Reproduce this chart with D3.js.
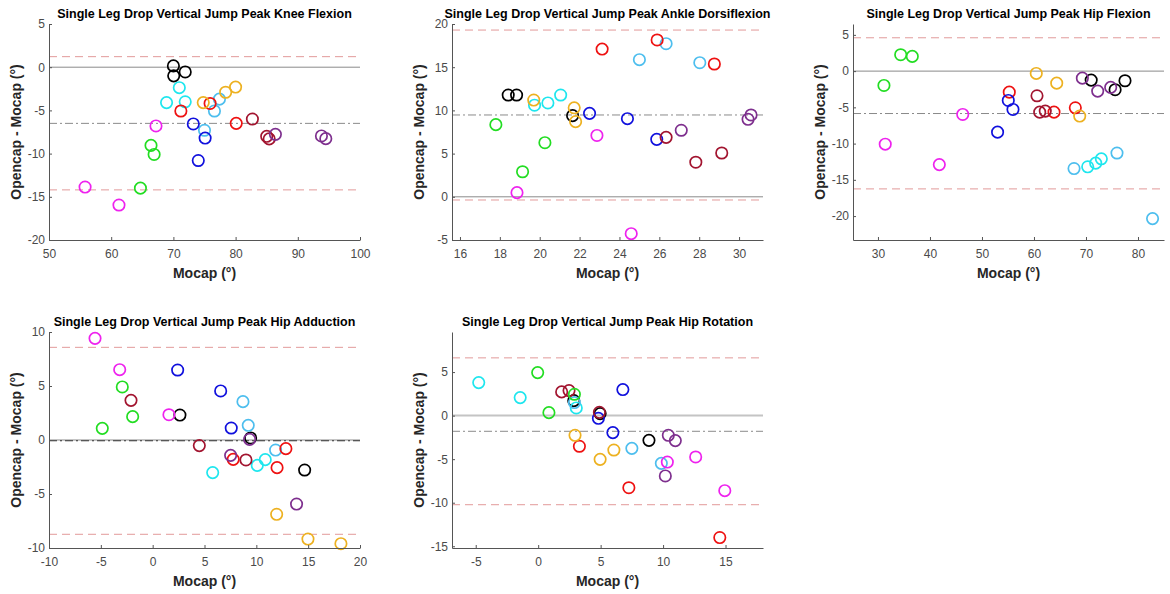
<!DOCTYPE html>
<html>
<head>
<meta charset="utf-8">
<script src="https://cdn.jsdelivr.net/npm/d3@7"></script>
<style>
  body { margin: 0; background: #fff; }
  svg { font-family: "Liberation Sans", Arial, sans-serif; }
</style>
</head>
<body>
<script>
// subjects, 3 trials each, same order in every panel
var subjectColors = ['#000000', '#1ee6ee', '#4dbeee', '#ee1111', '#edb120',
                     '#1010dd', '#a2142f', '#7e2f8e', '#22dd22', '#ee22ee'];

var titles = [
  'Single Leg Drop Vertical Jump Peak Knee Flexion',
  'Single Leg Drop Vertical Jump Peak Ankle Dorsiflexion',
  'Single Leg Drop Vertical Jump Peak Hip Flexion',
  'Single Leg Drop Vertical Jump Peak Hip Adduction',
  'Single Leg Drop Vertical Jump Peak Hip Rotation'
];

// mocap value, opencap - mocap
var kneeX = [70.0, 70.05, 71.9, 70.95, 68.9, 71.9, 77.4, 76.6, 75.0, 71.2, 75.9, 80.1, 74.8, 78.4, 80.0,
             73.2, 74.0, 75.1, 82.7, 85.0, 85.4, 86.4, 93.8, 94.5, 66.4, 66.9, 64.7, 67.2, 55.8, 61.25];
var kneeY = [0.15, -1.0, -0.55, -2.37, -4.1, -4.0, -3.7, -5.07, -7.3, -5.07, -4.2, -6.5, -4.1, -2.9, -2.3,
             -6.57, -10.8, -8.2, -6.0, -8.0, -8.3, -7.77, -7.96, -8.27, -9.05, -10.1, -14.0, -6.8, -13.87, -15.95];

var ankleX = [18.42, 18.84, 21.65, 19.74, 20.41, 21.05, 25.0, 26.34, 28.03, 23.13, 25.89, 28.76, 19.7, 21.73, 21.8,
              22.5, 24.4, 25.87, 26.34, 27.83, 29.13, 27.1, 30.45, 30.6, 17.8, 20.26, 19.14, 18.86, 22.87, 24.59];
var ankleY = [11.78, 11.78, 9.39, 10.6, 10.86, 11.78, 15.87, 17.72, 15.52, 17.1, 18.15, 15.37, 11.2, 10.3, 8.7,
              9.66, 9.04, 6.65, 6.88, 4.0, 5.07, 7.7, 8.97, 9.47, 8.35, 6.26, 2.9, 0.48, 7.1, -4.27];

var hipFlexX = [71.0, 75.6, 77.5, 70.33, 71.87, 72.95, 67.7, 75.96, 82.8, 55.25, 63.85, 67.95, 60.44, 64.37, 68.79,
                55.06, 55.96, 53.0, 60.58, 61.1, 62.17, 69.3, 72.25, 74.75, 34.37, 36.6, 31.15, 31.4, 41.8, 46.3];
var hipFlexY = [-1.24, -2.57, -1.33, -13.2, -12.7, -12.1, -13.44, -11.3, -20.35, -2.9, -5.66, -5.06, -0.32, -1.66, -6.2,
                -4.05, -5.29, -8.42, -3.4, -5.66, -5.52, -0.97, -2.76, -2.25, 2.26, 2.03, -1.98, -10.08, -12.9, -5.98];

var hipAddX = [2.63, 9.45, 14.66, 5.79, 10.09, 10.86, 8.71, 9.22, 11.86, 7.77, 12.85, 12.0, 11.96, 14.98, 18.16,
               2.41, 6.56, 7.58, -2.09, 4.5, 9.0, 9.35, 7.52, 13.88, -2.93, -1.93, -4.86, -5.56, -3.18, 1.57];
var hipAddY = [2.31, 0.19, -2.78, -3.02, -2.35, -1.82, 3.55, 1.36, -0.93, -1.79, -0.8, -2.56, -6.88, -9.17, -9.6,
               6.48, 4.54, 1.11, 3.67, -0.52, -1.85, 0.06, -1.42, -5.93, 4.91, 2.16, 1.08, 9.41, 6.51, 2.34];

var hipRotX = [2.85, 4.96, 8.87, -4.76, -1.44, 3.05, 2.9, 7.5, 9.86, 3.3, 7.26, 14.54, 2.95, 4.96, 6.06,
               4.82, 6.78, 5.98, 1.88, 2.47, 4.9, 10.42, 10.98, 10.18, -0.04, 0.86, 2.9, 10.34, 12.61, 14.94];
var hipRotY = [1.72, 0.23, -2.84, 3.79, 2.07, 0.88, 1.5, -3.76, -5.48, -3.52, -8.28, -14.0, -2.26, -5.02, -3.95,
               -0.31, 2.99, -1.95, 2.72, 2.87, 0.38, -2.26, -2.87, -6.93, 4.94, 0.34, 2.45, -5.33, -4.75, -8.62];

// bias and limits of agreement
var bias  = [-6.5, 9.47, -5.85, -0.07, -1.8];
var upper = [1.22, 19.3, 4.6, 8.58, 6.63];
var lower = [-14.2, -0.37, -16.25, -8.73, -10.23];

var xDomains = [[50, 100], [15.6, 31.2], [25.2, 85], [-10, 20], [-6.9, 18]];
var yDomains = [[-20, 5], [-5, 20], [-23.3, 6.5], [-10, 10], [-15.2, 9.6]];
var xTicks = [[50, 60, 70, 80, 90, 100], [16, 18, 20, 22, 24, 26, 28, 30], [30, 40, 50, 60, 70, 80],
              [-10, -5, 0, 5, 10, 15, 20], [-5, 0, 5, 10, 15]];
var yTicks = [[-20, -15, -10, -5, 0, 5], [-5, 0, 5, 10, 15, 20], [-20, -15, -10, -5, 0, 5],
              [-10, -5, 0, 5, 10], [-15, -10, -5, 0, 5]];

var xs = [kneeX, ankleX, hipFlexX, hipAddX, hipRotX];
var ys = [kneeY, ankleY, hipFlexY, hipAddY, hipRotY];

var width = 1170, height = 594;
var svg = d3.select('body').append('svg')
  .attr('width', width)
  .attr('height', height);

var colLeft = [49, 452, 853], plotW = 311;
var rowTop = [24, 332], plotH = 216;

titles.forEach((title, i) => {
  var left = colLeft[i % 3], top = rowTop[Math.floor(i / 3)];
  var x = d3.scaleLinear().domain(xDomains[i]).range([0, plotW]);
  var y = d3.scaleLinear().domain(yDomains[i]).range([plotH, 0]);

  var g = svg.append('g').attr('transform', `translate(${left},${top})`);

  // reference lines
  g.append('line')
    .attr('x1', 0).attr('x2', plotW)
    .attr('y1', y(0)).attr('y2', y(0))
    .attr('stroke', i == 4 ? '#c4c4c4' : '#8a8a8a')
    .attr('stroke-width', i == 4 ? 2 : 1);
  g.append('line')
    .attr('x1', 0).attr('x2', plotW)
    .attr('y1', y(bias[i])).attr('y2', y(bias[i]))
    .attr('stroke', i == 3 ? '#333' : '#8a8a8a')
    .attr('stroke-dasharray', '8,3,2,3');
  [upper[i], lower[i]].forEach(v => {
    g.append('line')
      .attr('x1', 0).attr('x2', plotW)
      .attr('y1', y(v)).attr('y2', y(v))
      .attr('stroke', '#e29a9a')
      .attr('stroke-dasharray', '8,5');
  });

  // points
  g.selectAll('circle')
    .data(xs[i].map((v, j) => ({x: v, y: ys[i][j], c: subjectColors[Math.floor(j / 3)]})))
    .join('circle')
      .attr('cx', d => x(d.x))
      .attr('cy', d => y(d.y))
      .attr('r', 5.7)
      .attr('fill', 'none')
      .attr('stroke', d => d.c)
      .attr('stroke-width', 1.7);

  // axes, MATLAB style inward ticks
  var xAxis = g.append('g')
    .attr('transform', `translate(0,${plotH})`)
    .call(d3.axisBottom(x).tickValues(xTicks[i]).tickFormat(d => String(d))
      .tickSize(-3).tickSizeOuter(0).tickPadding(9));
  var yAxis = g.append('g')
    .call(d3.axisLeft(y).tickValues(yTicks[i]).tickFormat(d => String(d))
      .tickSize(-3).tickSizeOuter(0).tickPadding(4));
  [xAxis, yAxis].forEach(a => {
    a.select('.domain').attr('stroke', '#555');
    a.selectAll('.tick line').attr('stroke', '#555');
    a.selectAll('.tick text').attr('fill', '#4a4a4a').style('font-size', '12px');
  });

  g.append('text')
    .attr('x', plotW / 2).attr('y', -6)
    .attr('text-anchor', 'middle')
    .style('font-size', '12.5px').style('font-weight', 'bold')
    .attr('fill', '#000')
    .text(title);

  g.append('text')
    .attr('x', plotW / 2).attr('y', plotH + 38)
    .attr('text-anchor', 'middle')
    .style('font-size', '14px').style('font-weight', 'bold')
    .attr('fill', '#262626')
    .text('Mocap (°)');

  g.append('text')
    .attr('transform', `translate(${-28},${plotH / 2}) rotate(-90)`)
    .attr('text-anchor', 'middle')
    .style('font-size', '14px').style('font-weight', 'bold')
    .attr('fill', '#262626')
    .text('Opencap - Mocap (°)');
});
</script>
</body>
</html>
